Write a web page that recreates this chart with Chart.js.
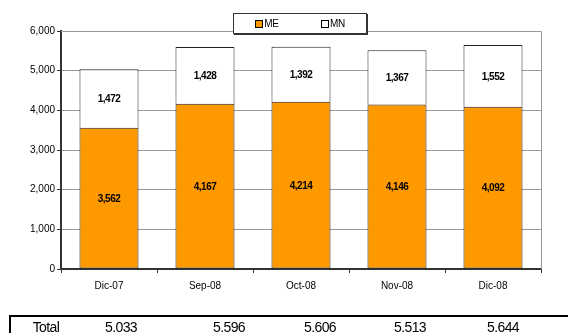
<!DOCTYPE html>
<html>
<head>
<meta charset="utf-8">
<script src="https://cdn.jsdelivr.net/npm/chart.js@4/dist/chart.umd.min.js"></script>
<style>
    html, body { margin: 0; padding: 0; background: #fff; overflow: hidden; }
    #wrap { position: relative; width: 568px; height: 333px; font-family: Arial, "Liberation Sans", sans-serif; }
    #chart { position: absolute; left: 0; top: 0; }
    #legend {
        position: absolute; left: 233px; top: 13px; width: 132px; height: 19px;
        border: 1px solid #333; box-shadow: 1px 1px 0 #333; background: #fff;
        display: flex; justify-content: space-around; align-items: center;
        font-size: 10px; color: #000; letter-spacing: -0.4px;
    }
    #legend span.box { display: inline-block; width: 6px; height: 6px; border: 1px solid #000; margin-right: 1px; vertical-align: -1px; }
    #totals {
        position: absolute; left: 9px; top: 315px; right: 0; height: 30px;
        border-top: 2px solid #000; border-left: 2px solid #000;
    }
    #totals div { position: absolute; top: 2px; font-size: 14px; letter-spacing: -0.6px; color: #000; transform: translateX(-50%); }
</style>
</head>
<body>
<div id="wrap">
    <canvas id="chart" width="568" height="333"></canvas>
    <div id="legend"></div>
    <div id="totals"></div>
</div>
<script>
    "use strict";

    var periods = ["Dic-07", "Sep-08", "Oct-08", "Nov-08", "Dic-08"];
    var meValues = [3562, 4167, 4214, 4146, 4092];
    var mnValues = [1472, 1428, 1392, 1367, 1552];
    var totalLabels = ["5.033", "5.596", "5.606", "5.513", "5.644"];

    // column centres of the totals row (relative to the row box)
    var totalCols = [110, 218, 309, 399, 492];

    var seriesNames = ["ME", "MN"];
    var seriesColors = ["#ff9900", "#ffffff"];

    function fmt(v) {
        return v.toLocaleString('en-US');
    }

    // labels in the middle of every segment
    var segmentLabels = {
        id: 'segmentLabels',
        afterDatasetsDraw: function (chart) {
            var ctx = chart.ctx;
            ctx.save();
            ctx.font = 'bold 10px Arial, "Liberation Sans", sans-serif';
            ctx.letterSpacing = '-0.5px';
            ctx.fillStyle = '#000';
            ctx.textAlign = 'center';
            ctx.textBaseline = 'middle';
            chart.data.datasets.forEach(function (ds, i) {
                chart.getDatasetMeta(i).data.forEach(function (bar, j) {
                    ctx.fillText(fmt(ds.data[j]), bar.x, (bar.y + bar.base) / 2 + 1);
                });
            });
            ctx.restore();
        }
    };

    // grey frame on the right side of the plot area
    var plotFrame = {
        id: 'plotFrame',
        beforeDatasetsDraw: function (chart) {
            var a = chart.chartArea, ctx = chart.ctx;
            ctx.save();
            ctx.strokeStyle = '#999';
            ctx.lineWidth = 1;
            ctx.beginPath();
            ctx.moveTo(a.left, a.top + 0.5);
            ctx.lineTo(a.right + 0.5, a.top + 0.5);
            ctx.lineTo(a.right + 0.5, a.bottom);
            ctx.stroke();
            ctx.restore();
        }
    };

    var chart = new Chart(document.getElementById('chart').getContext('2d'), {
        type: 'bar',
        data: {
            labels: periods,
            datasets: [{
                label: seriesNames[0],
                data: meValues,
                backgroundColor: seriesColors[0],
                borderColor: '#222',
                borderWidth: 1,
                borderSkipped: false
            }, {
                label: seriesNames[1],
                data: mnValues,
                backgroundColor: seriesColors[1],
                borderColor: '#222',
                borderWidth: 1,
                borderSkipped: 'bottom'
            }]
        },
        options: {
            responsive: false,
            animation: false,
            devicePixelRatio: 1,
            layout: { padding: { top: 31, right: 27, left: 0, bottom: 0 } },
            datasets: { bar: { barPercentage: 0.615, categoryPercentage: 1 } },
            plugins: {
                legend: { display: false },
                tooltip: { enabled: false }
            },
            scales: {
                x: {
                    stacked: true,
                    afterFit: function (s) { s.height = 64; },
                    ticks: {
                        font: { family: 'Arial, "Liberation Sans", sans-serif', size: 10 },
                        color: '#000',
                        padding: 7
                    },
                    grid: {
                        drawOnChartArea: false,
                        drawTicks: true,
                        tickLength: 4,
                        tickColor: '#333'
                    },
                    border: { color: '#333', width: 2 }
                },
                y: {
                    stacked: true,
                    min: 0,
                    max: 6000,
                    afterFit: function (s) { s.width = 61; },
                    ticks: {
                        stepSize: 1000,
                        font: { family: 'Arial, "Liberation Sans", sans-serif', size: 10 },
                        color: '#000',
                        padding: 2,
                        callback: function (v) { return fmt(v); }
                    },
                    grid: {
                        color: '#999',
                        lineWidth: 1,
                        tickLength: 4,
                        tickColor: '#333'
                    },
                    border: { color: '#333', width: 2 }
                }
            }
        },
        plugins: [plotFrame, segmentLabels]
    });

    // html legend built from the datasets
    var legend = document.getElementById('legend');
    chart.data.datasets.forEach(function (ds) {
        var item = document.createElement('div');
        item.innerHTML = '<span class="box" style="background:' + ds.backgroundColor + '"></span>' + ds.label;
        legend.appendChild(item);
    });

    // totals row under the chart
    var totals = document.getElementById('totals');
    var head = document.createElement('div');
    head.textContent = 'Total';
    head.style.left = '35px';
    totals.appendChild(head);
    totalLabels.forEach(function (t, i) {
        var d = document.createElement('div');
        d.textContent = t;
        d.style.left = totalCols[i] + 'px';
        totals.appendChild(d);
    });
</script>
</body>
</html>
